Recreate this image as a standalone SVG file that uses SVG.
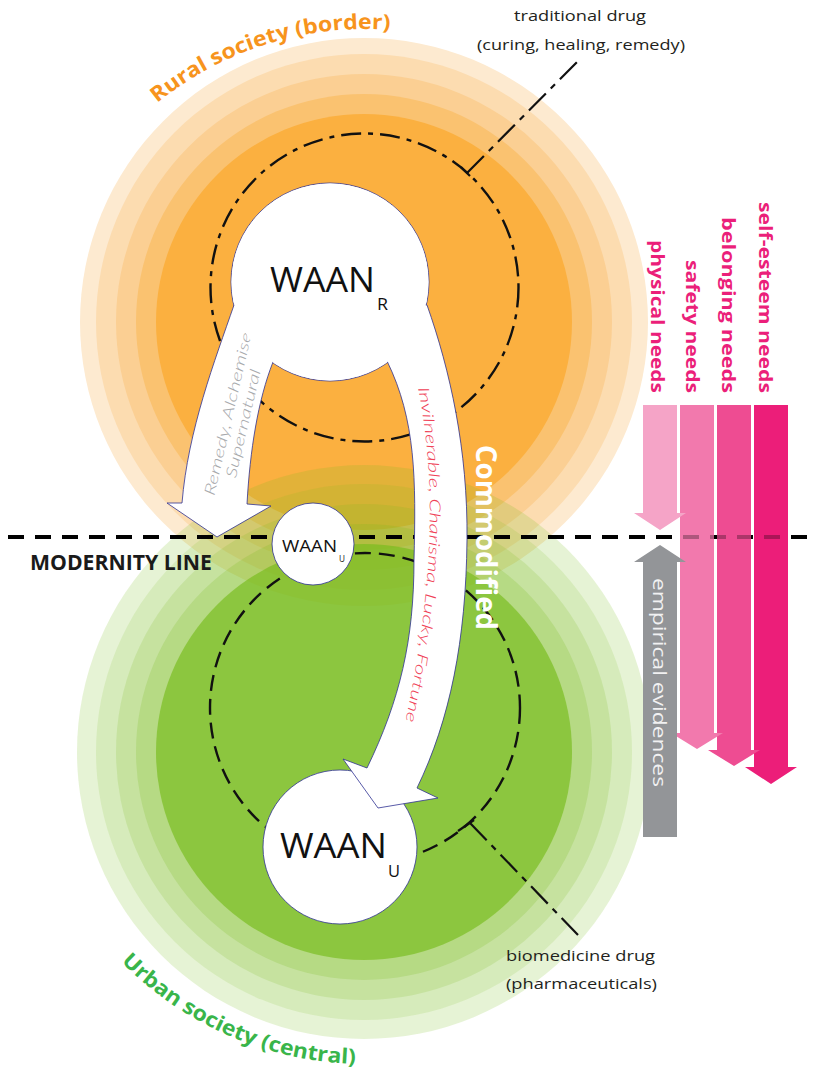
<svg xmlns="http://www.w3.org/2000/svg" width="814" height="1077" viewBox="0 0 814 1077">
<defs>
<style>
.sans{font-family:"Open Sans","Liberation Sans",sans-serif}
.thin{font-family:Lato,"Open Sans","Liberation Sans",sans-serif;font-style:italic;font-weight:300}
.shape{fill:#fff;stroke:#2E3192;stroke-width:0.8}
.dash1{fill:none;stroke:#111;stroke-width:2.4;stroke-dasharray:20 7 5 7}
.dash2{fill:none;stroke:#111;stroke-width:2.4;stroke-dasharray:16 8}
.lead{fill:none;stroke:#111;stroke-width:2.2;stroke-dasharray:24 7 6 7}
.need{font-family:"Open Sans","Liberation Sans",sans-serif;font-weight:bold;font-size:18px;fill:#EB1F7A}
.gr{fill:#78BC1D}
</style>
<path id="ruralArc" d="M 157.2 103.1 A 331 331 0 0 1 392 30"/>
<path id="urbanArc" d="M 121.1 961.7 A 342 342 0 0 0 357.8 1063.9"/>
<path id="invPath" d="M 418 388 C 432 460 440 560 404 728"/>
<clipPath id="rightClip"><rect x="630" y="500" width="184" height="80"/></clipPath>
</defs>

<g id="rural-society">
<circle cx="364" cy="322" r="284" fill="#FDEAD0"/>
<circle cx="364" cy="322" r="268" fill="#FCDCB0"/>
<circle cx="364" cy="322" r="248" fill="#FBCF93"/>
<circle cx="364" cy="322" r="228" fill="#FAC270"/>
<circle cx="364" cy="322" r="208" fill="#FBB040"/>
</g>

<g id="urban-society">
<circle class="gr" cx="364" cy="752" r="287" fill-opacity="0.186"/>
<circle class="gr" cx="364" cy="752" r="268" fill-opacity="0.14"/>
<circle class="gr" cx="364" cy="752" r="248" fill-opacity="0.171"/>
<circle class="gr" cx="364" cy="752" r="228" fill-opacity="0.207"/>
<circle class="gr" cx="364" cy="752" r="208" fill-opacity="0.674"/>
</g>

<g id="modernity-line">
<line x1="8" y1="537" x2="814" y2="537" stroke="#000" stroke-width="4" stroke-dasharray="16 11"/>
<text class="sans" x="30" y="570" font-size="21" font-weight="bold" fill="#1a1a1a" textLength="182" lengthAdjust="spacingAndGlyphs">MODERNITY LINE</text>
</g>

<g id="traditional-drug">
<circle class="dash1" cx="364.5" cy="287.5" r="154"/>
<line class="lead" x1="467" y1="173" x2="578" y2="61"/>
<line x1="461" y1="167" x2="470" y2="176" stroke="#111" stroke-width="2.2"/>
<text class="sans" x="514" y="21" font-size="15" fill="#231F20" textLength="132" lengthAdjust="spacingAndGlyphs">traditional drug</text>
<text class="sans" x="477" y="50" font-size="15" fill="#231F20" textLength="208" lengthAdjust="spacingAndGlyphs">(curing, healing, remedy)</text>
</g>

<g id="biomedicine-drug">
<circle class="dash2" cx="365" cy="708" r="155"/>
<line class="lead" x1="470" y1="823" x2="578" y2="935"/>
<line x1="458" y1="831" x2="474" y2="820" stroke="#111" stroke-width="2.2"/>
<text class="sans" x="506" y="961" font-size="15" fill="#231F20" textLength="149" lengthAdjust="spacingAndGlyphs">biomedicine drug</text>
<text class="sans" x="506" y="989" font-size="15" fill="#231F20" textLength="151" lengthAdjust="spacingAndGlyphs">(pharmaceuticals)</text>
</g>

<g id="waan-u-small">
<circle class="shape" cx="313" cy="544" r="41"/>
<text class="sans" x="282" y="552" font-size="16" fill="#111" textLength="55" lengthAdjust="spacingAndGlyphs">WAAN</text>
<text class="sans" x="339" y="562" font-size="9" fill="#111" textLength="6" lengthAdjust="spacingAndGlyphs">U</text>
</g>

<g id="waan-u">
<circle class="shape" cx="340" cy="847" r="77"/>
<text class="sans" x="280" y="858" font-size="34" fill="#111" textLength="107" lengthAdjust="spacingAndGlyphs">WAAN</text>
<text class="sans" x="388" y="877" font-size="17" fill="#111" textLength="12" lengthAdjust="spacingAndGlyphs">U</text>
</g>

<g id="waan-r">
<circle class="shape" cx="330" cy="282" r="99"/>
</g>

<g id="connectors">
<path class="shape" d="M 234,305 C 215,360 188,430 182,503 L 167,503 L 217,537 L 271,506 L 247,504 C 250,450 258,400 273,362 L 290,300 Z"/>
<path class="shape" d="M 427,305 C 450,370 468,450 467,540 C 466,640 450,720 417,788 L 438,798 L 378,808 L 343,759 L 367,768 C 400,700 414,640 414,560 C 416,480 416,420 387,361 L 400,300 Z"/>
<g transform="translate(233,415) rotate(-77)" class="thin" font-size="15" fill="#A7A9AC" text-anchor="middle">
<text x="0" y="0" textLength="167" lengthAdjust="spacingAndGlyphs">Remedy, Alchemise</text>
<text x="-6" y="17" textLength="111" lengthAdjust="spacingAndGlyphs">Supernatural</text>
</g>
<text class="thin" font-size="15" fill="#EF4056"><textPath href="#invPath" textLength="336" lengthAdjust="spacingAndGlyphs">Invilnerable, Charisma, Lucky, Fortune</textPath></text>
<text class="sans" transform="translate(476,445) rotate(90)" font-size="28" font-weight="bold" fill="#fff" textLength="185" lengthAdjust="spacingAndGlyphs">Commodified</text>
</g>

<g id="waan-r-face">
<circle cx="330" cy="282" r="98.5" fill="#fff"/>
<text class="sans" x="270" y="292" font-size="35" fill="#111" textLength="105" lengthAdjust="spacingAndGlyphs">WAAN</text>
<text class="sans" x="377" y="310" font-size="16" fill="#111" textLength="11" lengthAdjust="spacingAndGlyphs">R</text>
</g>

<g id="society-labels">
<text class="sans" font-size="21" font-weight="bold" fill="#F7941D"><textPath href="#ruralArc" textLength="250" lengthAdjust="spacingAndGlyphs">Rural society (border)</textPath></text>
<text class="sans" font-size="21" font-weight="bold" fill="#39B54A"><textPath href="#urbanArc" textLength="262" lengthAdjust="spacingAndGlyphs">Urban society (central)</textPath></text>
</g>

<g id="needs">
<polygon fill="#EC1E79" points="754,405 788,405 788,767 797,767 771,784 745,767 754,767"/>
<polygon fill="#EE4C92" points="717,405 751,405 751,750 760,750 734,766 708,750 717,750"/>
<polygon fill="#F279AD" points="680,405 714,405 714,733 723,733 697,749 671,733 680,733"/>
<polygon fill="#F5A4C7" points="643,405 677,405 677,513 686,513 660,530 634,513 643,513"/>
<polygon fill="#939598" points="643,837 677,837 677,562 686,562 660,545 634,562 643,562"/>
<line x1="8" y1="537" x2="814" y2="537" stroke="#000" stroke-width="4" stroke-dasharray="16 11" stroke-opacity="0.28" clip-path="url(#rightClip)"/>
<text class="need" transform="translate(651,393) rotate(90)" text-anchor="end" textLength="153" lengthAdjust="spacingAndGlyphs">physical needs</text>
<text class="need" transform="translate(686,393) rotate(90)" text-anchor="end" textLength="133" lengthAdjust="spacingAndGlyphs">safety needs</text>
<text class="need" transform="translate(722,393) rotate(90)" text-anchor="end" textLength="176" lengthAdjust="spacingAndGlyphs">belonging needs</text>
<text class="need" transform="translate(759,393) rotate(90)" text-anchor="end" textLength="191" lengthAdjust="spacingAndGlyphs">self-esteem needs</text>
<text class="sans" transform="translate(653,578) rotate(90)" font-size="18" fill="#F1F1F2" textLength="209" lengthAdjust="spacingAndGlyphs">empirical evidences</text>
</g>
</svg>
